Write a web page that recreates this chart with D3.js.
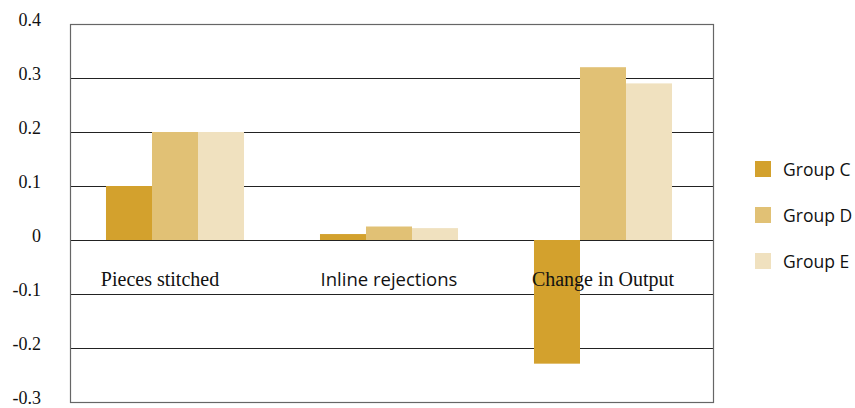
<!DOCTYPE html>
<html>
<head>
<meta charset="utf-8">
<script src="https://cdn.jsdelivr.net/npm/d3@7"></script>
<style>
  body { margin: 0; background: #fff; }
  svg { display: block; }
</style>
</head>
<body>
<svg id="chart" width="855" height="408"></svg>
<script>
const categories = ["Pieces stitched", "Inline rejections", "Change in Output"];
const seriesNames = ["Group C", "Group D", "Group E"];
const groupC = [0.1, 0.011, -0.229];
const groupD = [0.2, 0.025, 0.32];
const groupE = [0.2, 0.022, 0.29];
const tickValues = [0.4, 0.3, 0.2, 0.1, 0, -0.1, -0.2, -0.3];
const tickLabels = ["0.4", "0.3", "0.2", "0.1", "0", "-0.1", "-0.2", "-0.3"];
const colors = ["#D3A12D", "#E1C175", "#F0E1BF"];

const series = [groupC, groupD, groupE];

const svg = d3.select("#chart");
const x0 = 70, x1 = 713, yTop = 24, yBot = 402;

const y = d3.scaleLinear().domain([-0.3, 0.4]).range([yBot, yTop]);
const xBand = d3.scaleBand().domain(categories).range([68, 710]).paddingInner(0.355).paddingOuter(0.1775);
const xSub = d3.scaleBand().domain(seriesNames).range([0, xBand.bandwidth()]);

// gridlines
svg.append("g").selectAll("line").data(tickValues).join("line")
  .attr("x1", x0).attr("x2", x1)
  .attr("y1", d => Math.round(y(d)) + 0.5).attr("y2", d => Math.round(y(d)) + 0.5)
  .attr("stroke", "#222").attr("stroke-width", 1);

// frame
svg.append("rect")
  .attr("x", x0 + 0.5).attr("y", Math.round(y(0.4)) + 0.5)
  .attr("width", x1 - x0).attr("height", Math.round(y(-0.3)) - Math.round(y(0.4)))
  .attr("fill", "none").attr("stroke", "#666").attr("stroke-width", 1.2);

// y axis labels
const yAxis = d3.axisLeft(y).tickValues(tickValues).tickFormat((d, i) => tickLabels[i]).tickSize(0).tickPadding(0);
const gy = svg.append("g").attr("transform", `translate(41,-4)`).call(yAxis);
gy.select(".domain").remove();
gy.attr("font-family", "'Liberation Serif', 'Times New Roman', serif").attr("font-size", 18);
gy.selectAll("text").attr("fill", "#111");

// bars
const groups = svg.append("g").selectAll("g").data(categories).join("g")
  .attr("transform", d => `translate(${xBand(d)},0)`);
groups.selectAll("rect").data((d, i) => seriesNames.map((s, j) => ({ s, v: series[j][i], j })))
  .join("rect")
  .attr("x", d => xSub(d.s))
  .attr("width", xSub.bandwidth())
  .attr("y", d => y(Math.max(0, d.v)))
  .attr("height", d => Math.abs(y(d.v) - y(0)))
  .attr("fill", d => colors[d.j]);

// category labels
const labelFonts = ["'Liberation Serif', serif", "'Open Sans', sans-serif", "'Liberation Serif', serif"];
const labelSizes = [20, 18.5, 20];
const labelDx = [-15, 0, 0];
svg.append("g").selectAll("text").data(categories).join("text")
  .attr("x", (d, i) => xBand(d) + xBand.bandwidth() / 2 + labelDx[i])
  .attr("y", 286)
  .attr("text-anchor", "middle")
  .attr("font-family", (d, i) => labelFonts[i])
  .attr("font-size", (d, i) => labelSizes[i])
  .attr("fill", "#111")
  .text(d => d);

// legend
const leg = svg.append("g").selectAll("g").data(seriesNames).join("g")
  .attr("transform", (d, i) => `translate(755,${161 + i * 46})`);
leg.append("rect").attr("width", 16).attr("height", 16).attr("fill", (d, i) => colors[i]);
leg.append("text").attr("x", 28).attr("y", 14.5)
  .attr("font-family", "'Open Sans', sans-serif").attr("font-size", 17.5).attr("fill", "#111")
  .text(d => d);
</script>
</body>
</html>
